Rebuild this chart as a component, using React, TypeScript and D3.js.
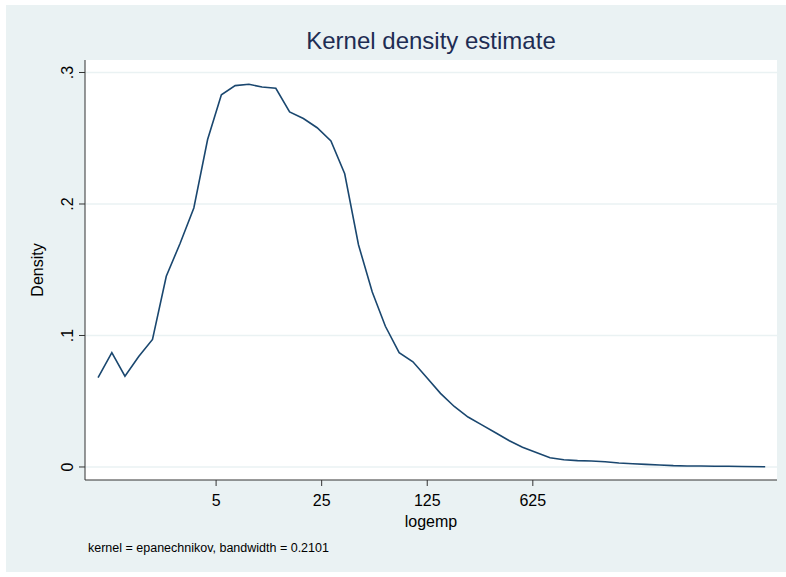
import React from "react";
import * as d3 from "d3";

const logemp = [-0.19,0.02,0.22,0.43,0.64,0.85,1.06,1.27,1.48,1.69,1.90,2.11,2.31,2.52,2.73,2.94,3.15,3.36,3.57,3.78,3.99,4.19,4.40,4.61,4.82,5.03,5.24,5.45,5.66,5.87,6.08,6.28,6.49,6.70,6.91,7.12,7.33,7.54,7.75,7.96,8.16,8.37,8.58,8.79,9.00,9.21,9.42,9.63,9.98];
const density = [.068,.087,.069,.084,.097,.145,.170,.197,.249,.283,.290,.291,.289,.288,.270,.265,.258,.248,.223,.169,.133,.107,.087,.080,.068,.056,.046,.038,.032,.026,.020,.015,.011,.007,.0055,.0048,.0046,.004,.003,.0025,.002,.0015,.001,.0008,.0007,.0006,.0005,.0004,.0002];
const xTickLabels = ["5","25","125","625"];
const yTicks = [0, 0.1, 0.2, 0.3];
const yTickLabels = ["0", ".1", ".2", ".3"];

export default function App() {
  const W = 786, H = 577;
  const L = 85, R = 777, T = 60, B = 480;
  const x = d3.scaleLinear().domain([-0.389, 10.16]).range([L, R]);
  const y = d3.scaleLinear().domain([-0.0099, 0.3095]).range([B, T]);
  const line = d3.line<number>().x((_, i) => x(logemp[i])).y((d) => y(d));
  const font = "'Liberation Sans', Arial, sans-serif";
  return (
    <svg width={W} height={H} style={{ position: "absolute", left: 0, top: 0 }}>
      <rect x={6} y={5} width={780} height={567} fill="#eaf2f3" />
      <rect x={L} y={T} width={R - L} height={B - T} fill="#ffffff" />
      {yTicks.map((t) => (
        <line key={t} x1={L} x2={R} y1={y(t)} y2={y(t)} stroke="#eaf2f3" strokeWidth={1.5} />
      ))}
      <path d={line(density) || ""} fill="none" stroke="#1a476f" strokeWidth={1.6} />
      <line x1={L} x2={L} y1={T} y2={B} stroke="#333" strokeWidth={1} />
      <line x1={L} x2={R} y1={B} y2={B} stroke="#333" strokeWidth={1} />
      {yTicks.map((t, i) => (
        <g key={t}>
          <line x1={L - 6} x2={L} y1={y(t)} y2={y(t)} stroke="#333" />
          <text transform={`translate(${L - 12},${y(t)}) rotate(-90)`} textAnchor="middle" fontFamily={font} fontSize={16} fill="#000">{yTickLabels[i]}</text>
        </g>
      ))}
      {xTickLabels.map((lab) => {
        const px = x(Math.log(+lab));
        return (
          <g key={lab}>
            <line x1={px} x2={px} y1={B} y2={B + 6} stroke="#333" />
            <text x={px} y={B + 26} textAnchor="middle" fontFamily={font} fontSize={16} fill="#000">{lab}</text>
          </g>
        );
      })}
      <text transform={`translate(43,${(T + B) / 2}) rotate(-90)`} textAnchor="middle" fontFamily={font} fontSize={16} fill="#000">Density</text>
      <text x={(L + R) / 2} y={527} textAnchor="middle" fontFamily={font} fontSize={16} fill="#000">logemp</text>
      <text x={88} y={552} fontFamily={font} fontSize={12.5} fill="#000">kernel = epanechnikov, bandwidth = 0.2101</text>
      <text x={(L + R) / 2} y={49} textAnchor="middle" fontFamily={font} fontSize={24} fill="#1e2d53">Kernel density estimate</text>
    </svg>
  );
}
